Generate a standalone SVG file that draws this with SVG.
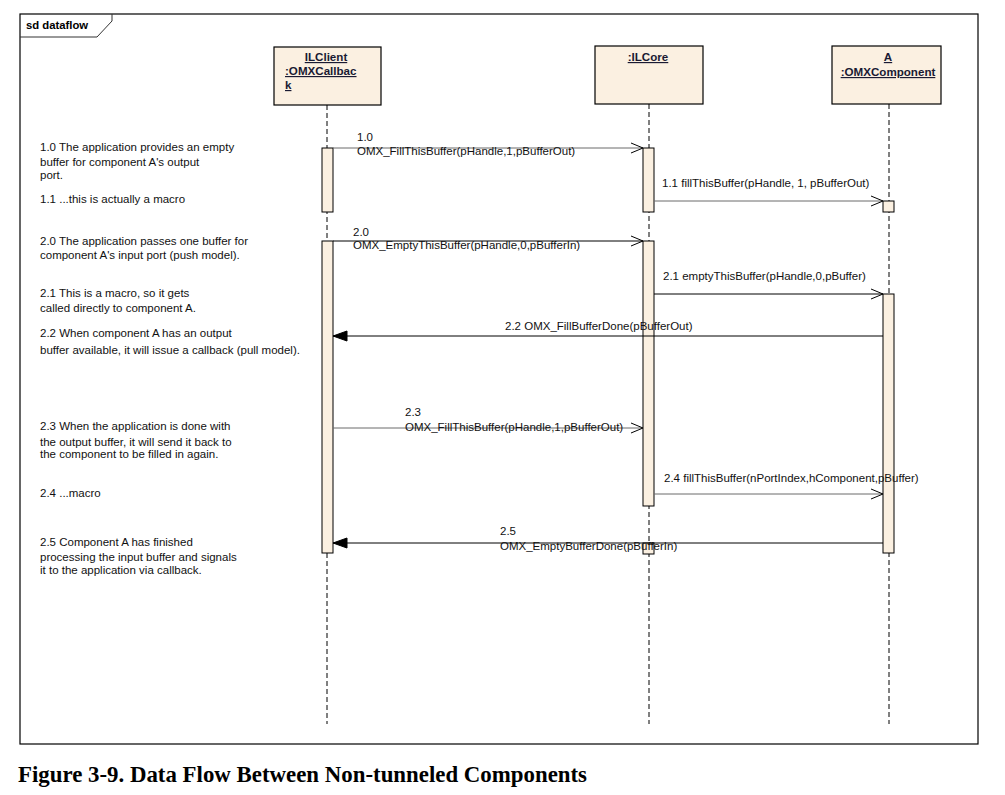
<svg xmlns="http://www.w3.org/2000/svg" width="1005" height="795" viewBox="0 0 1005 795">
<style>
.frame{fill:none;stroke:#000;stroke-width:1.2}
.hdr{fill:#fbf0e1;stroke:#000;stroke-width:1.2}
.act{fill:#fbf0e1;stroke:#000;stroke-width:1}
.life{stroke:#000;stroke-width:1;stroke-dasharray:5,3;fill:none}
.ht{font-family:"Liberation Sans",Arial,sans-serif;font-size:11.6px;font-weight:bold;fill:#1a1a33;text-decoration:underline}
.t{font-family:"Liberation Sans",Arial,sans-serif;font-size:11.5px;fill:#111}
.msg{stroke-width:1;fill:none}
.g{stroke:#6a6a6a}
.b{stroke:#000}
.cap{font-family:"Liberation Serif","Times New Roman",serif;font-size:22.5px;font-weight:bold;fill:#000}
</style>
<defs>
<marker id="open" markerWidth="14" markerHeight="12" refX="13" refY="6" orient="auto" markerUnits="userSpaceOnUse">
<path d="M1,1 L13,6 L1,11" fill="none" stroke="#000" stroke-width="1"/>
</marker>
<marker id="filled" markerWidth="16" markerHeight="12" refX="15" refY="6" orient="auto" markerUnits="userSpaceOnUse">
<path d="M1,1 L15,6 L1,11 Z" fill="#000" stroke="#000" stroke-width="1"/>
</marker>
</defs>
<rect width="1005" height="795" fill="#fff"/>
<g id="frame">
<rect class="frame" x="20" y="14" width="958" height="730"/>
<path d="M20,37 H97 L112,21 V14" fill="none" stroke="#333" stroke-width="1"/>
<text x="26" y="29" font-family="'Liberation Sans',Arial,sans-serif" font-size="11.3px" font-weight="bold" fill="#000">sd dataflow</text>
</g>
<g id="lifelines">
<line class="life" x1="327" y1="105" x2="327" y2="724"/>
<line class="life" x1="649" y1="104" x2="649" y2="724"/>
<line class="life" x1="889" y1="104" x2="889" y2="724"/>
</g>
<g id="ilclient">
<rect class="hdr" x="274" y="47" width="107" height="58"/>
<text class="ht" x="326" y="61" text-anchor="middle">ILClient</text>
<text class="ht" x="285" y="75">:OMXCallbac</text>
<text class="ht" x="285" y="89">k</text>
<rect class="act" x="322" y="148" width="11" height="64"/>
<rect class="act" x="322" y="241" width="11" height="312"/>
</g>
<g id="ilcore">
<rect class="hdr" x="595" y="46" width="108" height="58"/>
<text class="ht" x="648" y="61" text-anchor="middle">:ILCore</text>
<rect class="act" x="643" y="148" width="11" height="64"/>
<rect class="act" x="643" y="241" width="11" height="265"/>
<rect class="act" x="643" y="543" width="11" height="11"/>
</g>
<g id="component-a">
<rect class="hdr" x="832" y="46" width="109" height="58"/>
<text class="ht" x="888" y="61" text-anchor="middle">A</text>
<text class="ht" x="888" y="76" text-anchor="middle">:OMXComponent</text>
<rect class="act" x="883" y="201" width="11" height="11"/>
<rect class="act" x="883" y="294" width="11" height="259"/>
</g>
<g id="connectors">
<line class="msg g" x1="333" y1="148" x2="643" y2="148" marker-end="url(#open)"/>
<line class="msg g" x1="654" y1="201" x2="883" y2="201" marker-end="url(#open)"/>
<line class="msg b" x1="333" y1="241" x2="643" y2="241" marker-end="url(#open)"/>
<line class="msg b" x1="654" y1="294" x2="883" y2="294" marker-end="url(#open)"/>
<line class="msg b" x1="883" y1="336" x2="333" y2="336" marker-end="url(#filled)"/>
<line class="msg g" x1="333" y1="428" x2="643" y2="428" marker-end="url(#open)"/>
<line class="msg g" x1="654" y1="494" x2="883" y2="494" marker-end="url(#open)"/>
<line class="msg b" x1="883" y1="543" x2="333" y2="543" marker-end="url(#filled)"/>
</g>
<g id="message-labels">
<text class="t" x="357" y="141">1.0</text>
<text class="t" x="357" y="155">OMX_FillThisBuffer(pHandle,1,pBufferOut)</text>
<text class="t" x="662" y="187">1.1 fillThisBuffer(pHandle, 1, pBufferOut)</text>
<text class="t" x="353" y="236">2.0</text>
<text class="t" x="353" y="249">OMX_EmptyThisBuffer(pHandle,0,pBufferIn)</text>
<text class="t" x="663" y="280">2.1 emptyThisBuffer(pHandle,0,pBuffer)</text>
<text class="t" x="505" y="330">2.2 OMX_FillBufferDone(pBufferOut)</text>
<text class="t" x="405" y="416">2.3</text>
<text class="t" x="405" y="431">OMX_FillThisBuffer(pHandle,1,pBufferOut)</text>
<text class="t" x="664" y="482">2.4 fillThisBuffer(nPortIndex,hComponent,pBuffer)</text>
<text class="t" x="500" y="535">2.5</text>
<text class="t" x="500" y="550">OMX_EmptyBufferDone(pBufferIn)</text>
</g>
<g id="notes">
<text class="t" x="40" y="151">1.0 The application provides an empty</text>
<text class="t" x="40" y="166">buffer for component A's output</text>
<text class="t" x="40" y="179">port.</text>
<text class="t" x="40" y="203">1.1 ...this is actually a macro</text>
<text class="t" x="40" y="245">2.0 The application passes one buffer for</text>
<text class="t" x="40" y="259">component A's input port (push model).</text>
<text class="t" x="40" y="297">2.1 This is a macro, so it gets</text>
<text class="t" x="40" y="312">called directly to component A.</text>
<text class="t" x="40" y="337">2.2 When component A has an output</text>
<text class="t" x="40" y="354">buffer available, it will issue a callback (pull model).</text>
<text class="t" x="40" y="430">2.3 When the application is done with</text>
<text class="t" x="40" y="446">the output buffer, it will send it back to</text>
<text class="t" x="40" y="458">the component to be filled in again.</text>
<text class="t" x="40" y="497">2.4 ...macro</text>
<text class="t" x="40" y="546">2.5 Component A has finished</text>
<text class="t" x="40" y="561">processing the input buffer and signals</text>
<text class="t" x="40" y="574">it to the application via callback.</text>
</g>
<text class="cap" x="18" y="782" textLength="569" lengthAdjust="spacingAndGlyphs">Figure 3-9. Data Flow Between Non-tunneled Components</text>
</svg>
